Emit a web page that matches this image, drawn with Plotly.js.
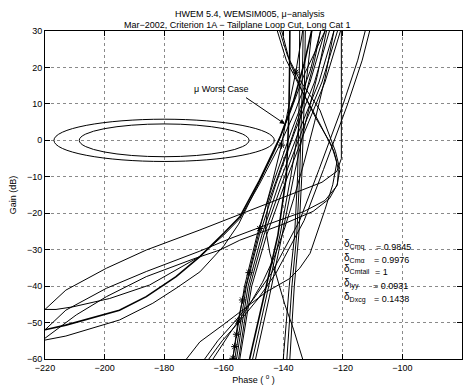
<!DOCTYPE html>
<html><head><meta charset="utf-8">
<script src="https://cdn.plot.ly/plotly-3.0.1.min.js"></script>
<style>html,body{margin:0;padding:0;background:#fff}</style>
</head><body><div id="chart" style="width:468px;height:389px"></div>
<script>
// ---- data (phase in degrees, gain in dB) ----
const xTickVals = [-220,-200,-180,-160,-140,-120,-100,-80];
const yTickVals = [-60,-50,-40,-30,-20,-10,0,10,20,30];

// exclusion ellipses [phaseMin, phaseMax, gainMin, gainMax]
const ellipseOuter = [-217, -143, -5.8, 5.8];
const ellipseInner = [-208.5, -151.5, -4.5, 4.5];

// loop curves (top -> corner near -121 -> shallow to left edge)
const loopAPhase = [-220,-213,-199.4,-186,-168,-158,-140,-127,-122,-120.5,-120.5,-120.5];
const loopAGain  = [-46.4,-41.1,-35.1,-30.1,-24.6,-21.4,-15.8,-11.5,-8.5,-5,10,30];
const loopBPhase = [-220,-213,-199.4,-186,-168,-158,-145,-133,-126,-122,-121,-122.5,-127.7,-134.5,-138.5,-141.2];
const loopBGain  = [-52,-46.6,-40.6,-36,-30.4,-27,-23,-19.5,-16.5,-12.5,-8,-3,8.3,16.6,23,30];
const loopCPhase = [-220,-209.5,-199.4,-186,-170,-161.3,-154.6,-140,-130,-124.5,-121.8,-121.5,-123,-128,-134,-139,-142];
const loopCGain  = [-54.3,-47.9,-42.9,-37.4,-32.5,-30.1,-27.4,-23,-19.5,-16,-12,-8,-3,5,14,22,30];

// curves from left edge joining the steep bundle
const flatPhase  = [-220,-216.3,-210.7,-198.3,-184.9,-168.1,-160,-154.6,-148,-141,-136,-131,-127.5];
const flatGain   = [-46.4,-46.4,-45.7,-43.4,-39.7,-31.9,-26,-21.5,-12,-1,8,19,30];
const thickPhase = [-220,-213,-195,-186,-176,-168,-160,-154.6,-148,-141,-136.5,-133,-130.5];
const thickGain  = [-52,-50.7,-46.6,-42.9,-37.4,-31.9,-25.5,-21,-11,1,11,21,30];
const lowPhase   = [-220,-213,-195,-183.8,-176,-168,-160,-155,-149,-143,-138,-133,-126];
const lowGain    = [-54.8,-53.7,-49.3,-44.7,-40.6,-36.1,-29,-23,-13,-3,7,18,30];

// steep bundle, left group
const bundleGain = [-60,-40,-26,-12,2,16,30];
const b1Phase = [-157,-153,-148.8,-143.5,-137.5,-131,-126];
const b2Phase = [-156.3,-152.4,-148,-142.5,-136.3,-129.5,-124.5];
const b3Phase = [-155.7,-151.8,-147.2,-141.5,-135,-128,-123];
const b4Phase = [-155,-151.2,-146.5,-140.5,-134,-127,-121.8];
const b5Phase = [-154.6,-150.6,-145.6,-139.5,-133,-126,-120.8];
// middle group
const midGain = [-60,-43,-26,-10,5,18,30];
const m1Phase = [-151.3,-146.5,-141.8,-139,-138.2,-137.9,-137.8];
const m2Phase = [-150.3,-145.6,-141.1,-137.5,-134.5,-132,-130.4];
const m3Phase = [-149.3,-144.7,-140.4,-136.5,-132.5,-128.5,-125.5];
// right group
const rightGain = [-60,-40,-26,-10,10,30];
const r1Phase = [-140,-138,-136.2,-135.2,-134.7,-134.5];
const r2Phase = [-138.8,-137.1,-135.5,-134.5,-133.8,-133.3];
const r3Phase = [-137.8,-136.3,-134.8,-133.8,-133,-132.6];

// crossing curve (bottom right, turning up)
const crossPhase = [-133.5,-136.5,-139.5,-142,-144.5,-146,-145,-141,-137,-133,-129.5,-127.5];
const crossGain  = [-60,-52,-45,-38,-31,-24,-17,-8,1,11,22,30];

// curves from the bottom left
const e1aPhase = [-166.4,-162,-156,-150,-144,-139,-134.5,-128,-120,-115,-112.5];
const e1aGain  = [-60,-55,-49.5,-43.5,-36.5,-29,-22,-8,9.7,22,30];
const e1bPhase = [-165,-160.5,-154.5,-148.5,-142.5,-137.5,-133,-126.5,-118.5,-113.5,-111];
const e1bGain  = [-60,-55,-49.5,-43.5,-36.5,-29,-22,-8,9.7,22,30];
const e2Phase  = [-172.5,-168,-160,-152,-145.7,-138,-134.5,-131,-128.9,-126,-123.4,-122,-124,-129,-134,-138,-140.5];
const e2Gain   = [-60,-55.3,-50.5,-45.5,-41.6,-38,-35.1,-31,-26,-19,-12.2,-6,-1,6,14,22,30];
const e3Phase  = [-163.6,-158,-152,-147,-143,-139.5,-136.5,-133,-129.5,-126,-123];
const e3Gain   = [-60,-53,-46,-39,-32,-24,-16,-6,5,17,30];

// mu worst case
const wcPhase = [-156.9,-156.3,-155.7,-155.2,-153.7,-151.5,-147.9,-144,-140.6,-138.5,-135.8,-133.5];
const wcGain  = [-59.8,-56.6,-53.2,-49.6,-43.8,-36.3,-24.2,-12.5,-1.3,8,18.7,30];
const wcMarkPhase = [-156.9,-156.3,-155.7,-155.2,-153.7,-151.5,-147.9,-140.6,-135.8];
const wcMarkGain  = [-59.8,-56.6,-53.2,-49.6,-43.8,-36.3,-24.2,-1.3,18.7];

// texts
const titleLines = ['HWEM 5.4, WEMSIM005, \u03bc\u2212analysis', 'Mar\u22122002, Criterion 1A \u2212 Tailplane Loop Cut, Long Cat 1'];
const deltaNames  = ['Cmq','Cm\u03b1','Cmtail','Iyy','Dxcg'];
const deltaValues = ['0.9845','0.9976','1','0.0931','0.1438'];
const deltaGains  = [-29.2,-32.8,-36,-40,-43.6];
const deltaEqPhase = [-109.6,-110.3,-109.8,-110.6,-110.3];

// ---- build ----
const FONT = 'Liberation Sans, Arial, Helvetica, sans-serif';
const traces = [];
function addLine(x, y, w) {
  traces.push({x: x, y: y, type: 'scatter', mode: 'lines', line: {color: '#000', width: w || 1}, hoverinfo: 'skip', showlegend: false});
}
addLine(loopAPhase, loopAGain);
addLine(loopBPhase, loopBGain);
addLine(loopCPhase, loopCGain);
addLine(flatPhase, flatGain);
addLine(thickPhase, thickGain, 1.6);
addLine(lowPhase, lowGain);
[b1Phase,b2Phase,b3Phase,b4Phase,b5Phase].forEach(p => addLine(p, bundleGain));
[m1Phase,m2Phase,m3Phase].forEach((p,i) => addLine(p, midGain, i===0?1.6:1));
[r1Phase,r2Phase,r3Phase].forEach(p => addLine(p, rightGain));
addLine(crossPhase, crossGain);
addLine(e1aPhase, e1aGain);
addLine(e1bPhase, e1bGain);
addLine(e2Phase, e2Gain);
addLine(e3Phase, e3Gain);
addLine(wcPhase, wcGain);
traces.push({x: wcMarkPhase, y: wcMarkGain, type: 'scatter', mode: 'markers',
  marker: {symbol: 'asterisk-open', size: 6, color: '#000', line: {color: '#000', width: 1}},
  hoverinfo: 'skip', showlegend: false});

const annotations = [];
annotations.push({xref:'paper', yref:'paper', x:0.4916, y:1.052, text:titleLines[0], showarrow:false,
  xanchor:'center', yanchor:'middle', font:{family:FONT, size:9, color:'#000'}});
annotations.push({xref:'paper', yref:'paper', x:0.4616, y:1.018, text:titleLines[1], showarrow:false,
  xanchor:'center', yanchor:'middle', font:{family:FONT, size:9, color:'#000'}});
annotations.push({xref:'x', yref:'y', x:-160.6, y:14.1, text:'\u03bc Worst Case', showarrow:false,
  xanchor:'center', yanchor:'middle', font:{family:FONT, size:9, color:'#000'}});
annotations.push({xref:'x', yref:'y', x:-139.5, y:4.5, axref:'x', ayref:'y', ax:-153, ay:12, text:'',
  showarrow:true, arrowhead:2, arrowsize:1, arrowwidth:1, arrowcolor:'#000'});
deltaNames.forEach((n,i) => {
  annotations.push({xref:'x', yref:'y', x:-120.3, y:deltaGains[i]+0.6, text:'\u03b4<sub>'+n+'</sub>', showarrow:false,
    xanchor:'left', yanchor:'middle', font:{family:FONT, size:10, color:'#000'}});
  annotations.push({xref:'x', yref:'y', x:deltaEqPhase[i], y:deltaGains[i], text:'= '+deltaValues[i], showarrow:false,
    xanchor:'left', yanchor:'middle', font:{family:FONT, size:9, color:'#000'}});
});

const shapes = [ellipseOuter, ellipseInner].map(e => ({type:'circle', xref:'x', yref:'y',
  x0:e[0], x1:e[1], y0:e[2], y1:e[3], line:{color:'#000', width:1}, layer:'above'}));

const axisCommon = {showline:true, linecolor:'#000', linewidth:1, mirror:'ticks', ticks:'inside', ticklen:5,
  tickcolor:'#000', showgrid:true, gridcolor:'#8a8a8a', griddash:'dot', gridwidth:1, zeroline:false,
  tickfont:{family:FONT, size:9, color:'#000'}};

const layout = {
  width:468, height:389, margin:{l:45, r:6, t:31, b:30}, paper_bgcolor:'#fff', plot_bgcolor:'#fff',
  xaxis: Object.assign({}, axisCommon, {range:[-220,-80], tickvals:xTickVals, ticktext: xTickVals.map(v=>String(v).replace('-','\u2212')),
    title:{text:'Phase ( <sup>o</sup> )', font:{family:FONT, size:9, color:'#000'}, standoff:4}}),
  yaxis: Object.assign({}, axisCommon, {range:[-60,30], tickvals:yTickVals, ticktext: yTickVals.map(v=>String(v).replace('-','\u2212')),
    title:{text:'Gain (dB)', font:{family:FONT, size:9, color:'#000'}, standoff:8}}),
  annotations: annotations, shapes: shapes, showlegend:false
};
Plotly.newPlot('chart', traces, layout, {staticPlot:true, displayModeBar:false});
</script></body></html>
